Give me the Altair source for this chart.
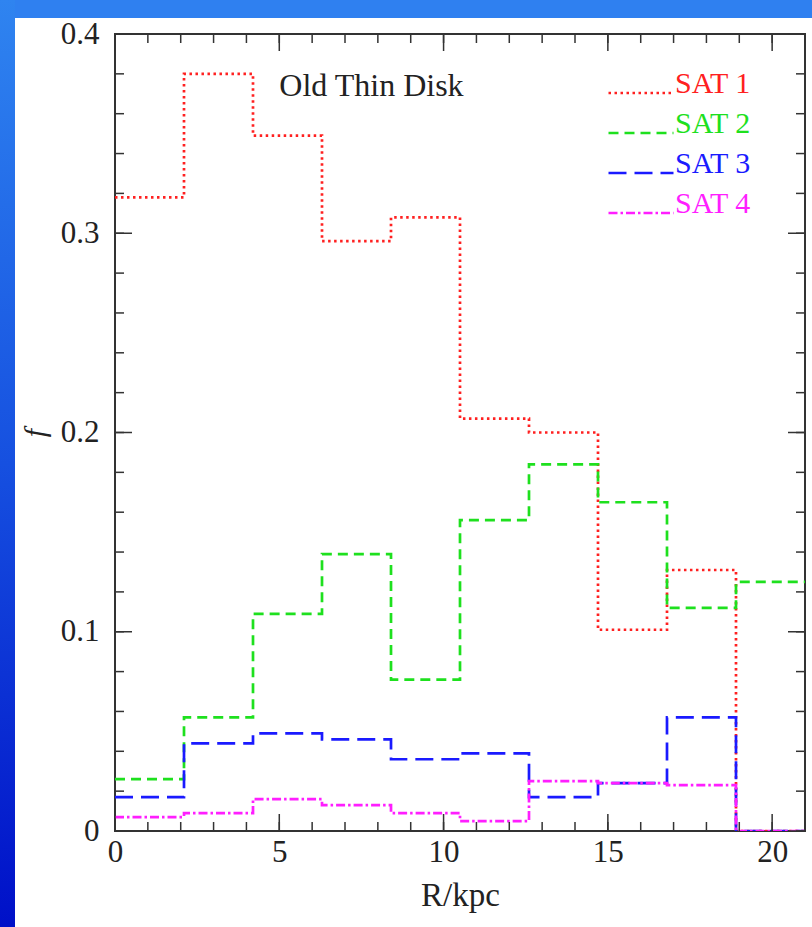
import altair as alt
import pandas as pd

# ---- data ----
edges = [0.0, 2.1, 4.2, 6.3, 8.4, 10.5, 12.6, 14.7, 16.8, 18.9, 21.0]
series_names = ["SAT 1", "SAT 2", "SAT 3", "SAT 4"]
sat1 = [0.318, 0.380, 0.349, 0.296, 0.308, 0.207, 0.200, 0.101, 0.131, 0.000]
sat2 = [0.026, 0.057, 0.109, 0.139, 0.076, 0.156, 0.184, 0.165, 0.112, 0.125]
sat3 = [0.017, 0.044, 0.049, 0.046, 0.036, 0.039, 0.017, 0.024, 0.057, 0.000]
sat4 = [0.007, 0.009, 0.016, 0.013, 0.009, 0.005, 0.025, 0.024, 0.023, 0.000]
x_major = [0, 5, 10, 15, 20]
x_minor = list(range(0, 22))
y_major = [0.0, 0.1, 0.2, 0.3, 0.4]
y_minor = [round(i * 0.02, 2) for i in range(0, 21)]
annotation = ["Old Thin Disk"]

colors = ["#ff2020", "#1ee01e", "#1a1aff", "#ff1eff"]
dashes = [[2.5, 3.5], [10, 6], [18, 8], [9, 3, 2.5, 3]]

W, H = 690, 797
FONT = "Liberation Serif"
MINOR, MAJOR = 9, 17
TICK_COLOR = "#333"

rows = []
for name, vals in zip(series_names, [sat1, sat2, sat3, sat4]):
    for i, v in enumerate(vals):
        rows.append({"series": name, "R": edges[i], "f": v, "k": i})
    rows.append({"series": name, "R": edges[-1], "f": vals[-1], "k": len(vals)})
df = pd.DataFrame(rows)

xscale = alt.Scale(domain=[0, 21], nice=False, zero=False)
yscale = alt.Scale(domain=[0, 0.4], nice=False)

label_color_expr = " : ".join(
    f"datum.label == '{n}' ? '{c}'" for n, c in zip(series_names[:-1], colors[:-1])
) + f" : '{colors[-1]}'"

legend = alt.Legend(
    orient="none", legendX=492, legendY=44, title=None,
    symbolType="stroke", symbolSize=4225, symbolStrokeWidth=2.7,
    clipHeight=30, rowPadding=1, padding=0,
    labelFont=FONT, labelFontSize=30, labelOffset=0,
    labelBaseline="alphabetic",
    labelColor={"expr": label_color_expr},
)

lines = alt.Chart(df).mark_line(interpolate="step-after", strokeWidth=2.7, clip=True).encode(
    x=alt.X("R:Q", scale=xscale, axis=alt.Axis(
        orient="bottom", values=x_major, ticks=False, domain=False, grid=False,
        labelFont=FONT, labelFontSize=31, labelColor="#222", labelPadding=6,
        labelFlush=False, labelOverlap=False, format="d",
        title="R/kpc", titleFont=FONT, titleFontSize=33, titleFontWeight="normal",
        titleColor="#222", titlePadding=12)),
    y=alt.Y("f:Q", scale=yscale, axis=alt.Axis(
        orient="left", values=y_major, ticks=False, domain=False, grid=False,
        labelFont=FONT, labelFontSize=31, labelColor="#222", labelPadding=16,
        labelFlush=False, labelOverlap=False, format=".1~f",
        title="f", titleFont=FONT, titleFontSize=30, titleFontStyle="italic",
        titleFontWeight="normal", titleColor="#222", titlePadding=10, titleAngle=270)),
    color=alt.Color("series:N", scale=alt.Scale(domain=series_names, range=colors), legend=legend),
    strokeDash=alt.StrokeDash("series:N", scale=alt.Scale(domain=series_names, range=dashes), legend=legend),
    order="k:Q",
)

# inward tick marks on all four sides, positioned by the scales
xt_minor = pd.DataFrame({"R": x_minor})
xt_major = pd.DataFrame({"R": x_major})
yt_minor = pd.DataFrame({"f": y_minor})
yt_major = pd.DataFrame({"f": y_major})


def xticks(d, size):
    base = alt.Chart(d).mark_rule(color=TICK_COLOR, strokeWidth=1.5)
    xe = alt.X("R:Q", scale=xscale, axis=None)
    return [base.encode(x=xe, y=alt.value(H), y2=alt.value(H - size)),
            base.encode(x=xe, y=alt.value(0), y2=alt.value(size))]


def yticks(d, size):
    base = alt.Chart(d).mark_rule(color=TICK_COLOR, strokeWidth=1.5)
    ye = alt.Y("f:Q", scale=yscale, axis=None)
    return [base.encode(y=ye, x=alt.value(0), x2=alt.value(size)),
            base.encode(y=ye, x=alt.value(W), x2=alt.value(W - size))]


tick_layers = xticks(xt_minor, MINOR) + xticks(xt_major, MAJOR) + yticks(yt_minor, MINOR) + yticks(yt_major, MAJOR)

ann_df = pd.DataFrame({"label": annotation, "R": [5.0], "f": [0.374]})
ann = alt.Chart(ann_df).mark_text(
    align="left", baseline="middle", font=FONT, fontSize=32, color="#222"
).encode(x=alt.X("R:Q", scale=xscale, axis=None), y=alt.Y("f:Q", scale=yscale, axis=None), text="label:N")

# slide decoration (blue border of the original slide)
deco_df = pd.DataFrame({"d": [0]})
top_strip = alt.Chart(deco_df).mark_rect(color="#2f80f0").encode(
    x=alt.value(-115), x2=alt.value(W + 7), y=alt.value(-34), y2=alt.value(-16))
left_strip = alt.Chart(deco_df).mark_rect(
    color=alt.LinearGradient(
        gradient="linear", x1=0, x2=0, y1=0, y2=1,
        stops=[alt.GradientStop(offset=0, color="#2f84f0"),
               alt.GradientStop(offset=0.5, color="#1650e0"),
               alt.GradientStop(offset=1, color="#0010c8")])
).encode(x=alt.value(-115), x2=alt.value(-100), y=alt.value(-34), y2=alt.value(H + 96))

chart = alt.layer(
    lines, top_strip, left_strip, *tick_layers, ann
).resolve_axis(x="independent", y="independent").properties(
    width=W, height=H,
    autosize=alt.AutoSizeParams(type="none"),
    padding={"left": 115, "top": 34, "right": 7, "bottom": 96},
    background="white",
).configure_view(stroke="#333", strokeWidth=2)

chart.save("out.html", embed_options={"renderer": "svg", "actions": False})
